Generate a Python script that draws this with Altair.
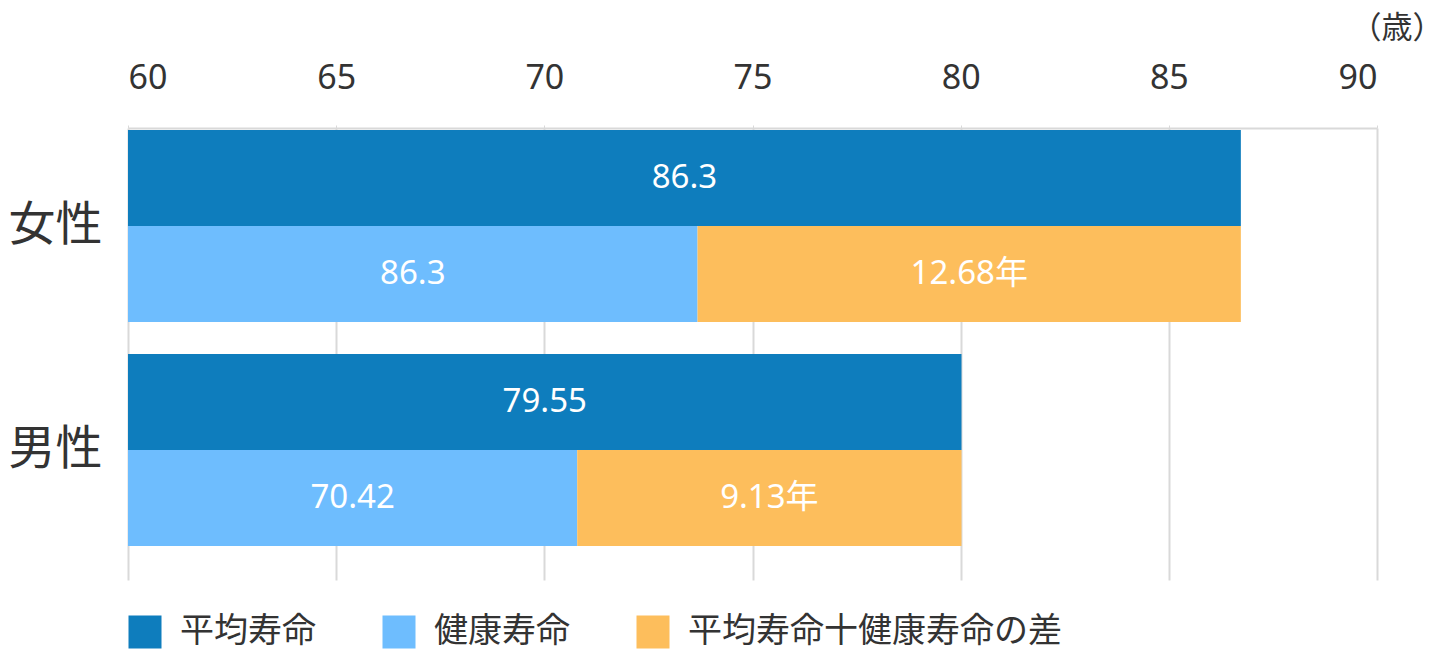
import altair as alt
import pandas as pd

groups = ["女性", "男性"]
avg_life = [86.73, 80.02]          # bar ends as drawn
healthy_life = [73.68, 70.79]      # bar ends as drawn
avg_labels = ["86.3", "79.55"]
healthy_labels = ["86.3", "70.42"]
gap_labels = ["12.68年", "9.13年"]
series = ["平均寿命", "健康寿命", "平均寿命十健康寿命の差"]
colors = ["#0E7DBD", "#6EBDFE", "#FDBE5C"]
axis_min, axis_max = 60, 90
ticks = [60, 65, 70, 75, 80, 85, 90]

rows = []
for i, g in enumerate(groups):
    rows.append(dict(group=g, row="a", series=series[0], start=axis_min, end=avg_life[i], label=avg_labels[i]))
    rows.append(dict(group=g, row="b", series=series[1], start=axis_min, end=healthy_life[i], label=healthy_labels[i]))
    rows.append(dict(group=g, row="b", series=series[2], start=healthy_life[i], end=avg_life[i], label=gap_labels[i]))
df = pd.DataFrame(rows)

FONT = "Noto Sans, Noto Sans CJK JP"

base = alt.Chart(df).encode(
    y=alt.Y("group:N", sort=groups, title=None,
            scale=alt.Scale(paddingInner=0.1429, paddingOuter=0.0804, align=0.056),
            axis=alt.Axis(domain=False, ticks=False, labelFontSize=47, labelColor="#333333",
                          labelPadding=26, labelFont=FONT, grid=False)),
    yOffset=alt.YOffset("row:N", scale=alt.Scale(paddingInner=0, paddingOuter=0)),
)

bars = base.mark_bar().encode(
    x=alt.X("start:Q", scale=alt.Scale(domain=[axis_min, axis_max], nice=False, zero=False),
            axis=alt.Axis(orient="top", values=ticks, labelFontSize=34, labelColor="#333333",
                          labelFont=FONT, labelPadding=30, domainColor="#d9d9d9", domainWidth=2,
                          tickColor="#d9d9d9", tickSize=3, gridColor="#d9d9d9", gridWidth=2,
                          title="（歳）", titleFont=FONT, titleFontSize=31, titleFontWeight="normal",
                          titleColor="#333333", titleAnchor="end", titleAlign="right",
                          titleBaseline="middle", titleX=1315, titleY=-100)),
    x2="end:Q",
    color=alt.Color("series:N", scale=alt.Scale(domain=series, range=colors),
                    legend=alt.Legend(title=None, orient="none", legendX=0, legendY=487,
                                      direction="horizontal", symbolType="square", symbolSize=1089,
                                      symbolStrokeWidth=0, labelFontSize=34, labelFont=FONT,
                                      labelColor="#333333", labelOffset=18, columnPadding=66,
                                      labelLimit=0, symbolOpacity=1)),
)

texts = base.transform_calculate(mid="(datum.start + datum.end) / 2").mark_text(
    color="white", fontSize=33, font=FONT, baseline="middle", align="center"
).encode(x=alt.X("mid:Q"), text="label:N")

chart = (bars + texts).properties(
    width=1249, height=452,
    padding={"left": 0, "top": 4, "right": 0, "bottom": 0},
).configure_view(stroke=None).configure_axisX(gridDash=[])

chart.save("out.html", embed_options={"renderer": "svg", "actions": False})
